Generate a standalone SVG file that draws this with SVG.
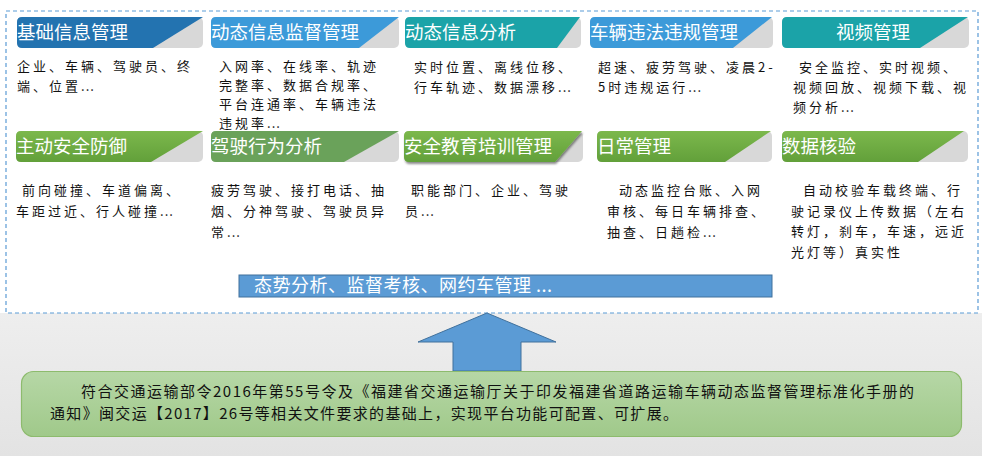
<svg xmlns="http://www.w3.org/2000/svg" width="982" height="456" viewBox="0 0 982 456">
<style>
.hd{font-family:"Noto Sans CJK SC","Liberation Sans",sans-serif;font-size:18.5px;fill:#fff}
.bd{font-family:"Noto Sans CJK SC","Liberation Sans",sans-serif;font-size:13px;letter-spacing:3px;fill:#111}
.el{letter-spacing:1px}
.gr{fill:#d8d8d8}
.ft{font-family:"Noto Sans CJK SC","Liberation Sans",sans-serif;font-size:15px;fill:#111}
</style>
<defs>
<linearGradient id="bg" x1="0" y1="0" x2="0" y2="1"><stop offset="0" stop-color="#eeeeee"/><stop offset="1" stop-color="#e3e3e3"/></linearGradient>
<linearGradient id="gn" x1="0" y1="0" x2="0" y2="1"><stop offset="0" stop-color="#7cb84c"/><stop offset="1" stop-color="#62a03a"/></linearGradient>
<linearGradient id="gb" x1="0" y1="0" x2="0" y2="1"><stop offset="0" stop-color="#b6d7a6"/><stop offset="1" stop-color="#a0c98a"/></linearGradient>
<filter id="sh" x="-5%" y="-20%" width="115%" height="160%"><feDropShadow dx="1" dy="2" stdDeviation="1.2" flood-color="#000" flood-opacity="0.45"/></filter>
</defs>
<rect x="0" y="0" width="982" height="456" fill="#fff"/>
<rect x="0" y="313" width="982" height="143" fill="url(#bg)"/>
<rect x="6" y="11" width="972" height="302" fill="#fff" stroke="#5b9bd5" stroke-width="1.2" stroke-dasharray="4 3"/>

<g id="n1">
<rect class="gr" x="17" y="17" width="186" height="31" rx="5"/>
<path d="M22,17 L203,17 L153,48 L22,48 Q17,48 17,43 L17,22 Q17,17 22,17 Z" fill="#2373b0"/>
<text class="hd" x="17" y="39">基础信息管理</text>
<text class="bd" x="17" y="71">企业、车辆、驾驶员、终</text>
<text class="bd" x="17" y="91">端、位置<tspan class="el">...</tspan></text>
</g>
<g id="n2">
<rect class="gr" x="211" y="17" width="188" height="31" rx="5"/>
<path d="M216,17 L399,17 L359,48 L216,48 Q211,48 211,43 L211,22 Q211,17 216,17 Z" fill="#3c9ad9"/>
<text class="hd" x="211" y="39">动态信息监督管理</text>
<text class="bd" x="219" y="71">入网率、在线率、轨迹</text>
<text class="bd" x="219" y="90">完整率、数据合规率、</text>
<text class="bd" x="219" y="109">平台连通率、车辆违法</text>
<text class="bd" x="219" y="128">违规率<tspan class="el">...</tspan></text>
</g>
<g id="n3">
<rect class="gr" x="405" y="17" width="176" height="31" rx="5"/>
<path d="M410,17 L580,17 L557,48 L410,48 Q405,48 405,43 L405,22 Q405,17 410,17 Z" fill="#1ba3a8"/>
<text class="hd" x="405" y="39">动态信息分析</text>
<text class="bd" x="414" y="72">实时位置、离线位移、</text>
<text class="bd" x="414" y="92">行车轨迹、数据漂移<tspan class="el">...</tspan></text>
</g>
<g id="n4">
<rect class="gr" x="590" y="17" width="183" height="31" rx="5"/>
<path d="M595,17 L772,17 L733,48 L595,48 Q590,48 590,43 L590,22 Q590,17 595,17 Z" fill="#3c9ad9"/>
<text class="hd" x="590" y="39">车辆违法违规管理</text>
<text class="bd" x="598" y="72">超速、疲劳驾驶、凌晨2-</text>
<text class="bd" x="598" y="92">5时违规运行<tspan class="el">...</tspan></text>
</g>
<g id="n5">
<rect class="gr" x="782" y="17" width="187" height="31" rx="5"/>
<path d="M787,17 L968,17 L920,48 L787,48 Q782,48 782,43 L782,22 Q782,17 787,17 Z" fill="#1ba3a8"/>
<text class="hd" x="873" y="39" text-anchor="middle">视频管理</text>
<text class="bd" x="799" y="72">安全监控、实时视频、</text>
<text class="bd" x="793" y="92">视频回放、视频下载、视</text>
<text class="bd" x="793" y="112">频分析<tspan class="el">...</tspan></text>
</g>

<g id="n6">
<rect class="gr" x="16" y="131" width="187" height="31" rx="5"/>
<path d="M21,131 L203,131 L151,162 L21,162 Q16,162 16,157 L16,136 Q16,131 21,131 Z" fill="url(#gn)"/>
<text class="hd" x="16" y="153">主动安全防御</text>
<text class="bd" x="22" y="195">前向碰撞、车道偏离、</text>
<text class="bd" x="16" y="216">车距过近、行人碰撞<tspan class="el">...</tspan></text>
</g>
<g id="n7">
<rect class="gr" x="211" y="131" width="188" height="31" rx="5"/>
<path d="M216,131 L399,131 L344,162 L216,162 Q211,162 211,157 L211,136 Q211,131 216,131 Z" fill="#6aa25a"/>
<text class="hd" x="211" y="153">驾驶行为分析</text>
<text class="bd" x="211" y="195">疲劳驾驶、接打电话、抽</text>
<text class="bd" x="211" y="216">烟、分神驾驶、驾驶员异</text>
<text class="bd" x="211" y="237">常<tspan class="el">...</tspan></text>
</g>
<g id="n8">
<rect class="gr" x="404" y="131" width="179" height="31" rx="5"/>
<path d="M409,131 L582,131 L555,162 L409,162 Q404,162 404,157 L404,136 Q404,131 409,131 Z" fill="url(#gn)" filter="url(#sh)"/>
<text class="hd" x="404" y="153">安全教育培训管理</text>
<text class="bd" x="411" y="195">职能部门、企业、驾驶</text>
<text class="bd" x="405" y="216">员<tspan class="el">...</tspan></text>
</g>
<g id="n9">
<rect class="gr" x="597" y="131" width="175" height="31" rx="5"/>
<path d="M602,131 L771,131 L725,162 L602,162 Q597,162 597,157 L597,136 Q597,131 602,131 Z" fill="url(#gn)"/>
<text class="hd" x="597" y="153">日常管理</text>
<text class="bd" x="619" y="195">动态监控台账、入网</text>
<text class="bd" x="607" y="216">审核、每日车辆排查、</text>
<text class="bd" x="607" y="237">抽查、日趟检<tspan class="el">...</tspan></text>
</g>
<g id="n10">
<rect class="gr" x="782" y="131" width="186" height="31" rx="5"/>
<path d="M787,131 L964,131 L918,162 L787,162 Q782,162 782,157 L782,136 Q782,131 787,131 Z" fill="url(#gn)"/>
<text class="hd" x="782" y="153">数据核验</text>
<text class="bd" x="803" y="195">自动校验车载终端、行</text>
<text class="bd" x="791" y="216">驶记录仪上传数据（左右</text>
<text class="bd" x="791" y="236">转灯，刹车，车速，远近</text>
<text class="bd" x="791" y="257">光灯等）真实性</text>
</g>

<g id="bar">
<rect x="239" y="275" width="533" height="22" fill="#5b9bd5" stroke="#41719c" stroke-width="1"/>
<text x="254" y="292" font-family="Noto Sans CJK SC, Liberation Sans, sans-serif" font-size="18" fill="#fff" textLength="298" lengthAdjust="spacing">态势分析、监督考核、网约车管理 ...</text>
</g>

<g id="connectors">
<path d="M487,313 L556,342 L521,342 L521,371 L453,371 L453,342 L418,342 Z" fill="#5b9bd5" stroke="#41719c" stroke-width="1"/>
</g>

<g id="base">
<rect x="21.5" y="371.5" width="940" height="65" rx="12" fill="url(#gb)" stroke="#8dbb6d" stroke-width="1.2"/>
<text class="ft" x="81" y="397" textLength="833" lengthAdjust="spacing">符合交通运输部令2016年第55号令及《福建省交通运输厅关于印发福建省道路运输车辆动态监督管理标准化手册的</text>
<text class="ft" x="50" y="419" textLength="628" lengthAdjust="spacing">通知》闽交运【2017】26号等相关文件要求的基础上，实现平台功能可配置、可扩展。</text>
</g>
</svg>
